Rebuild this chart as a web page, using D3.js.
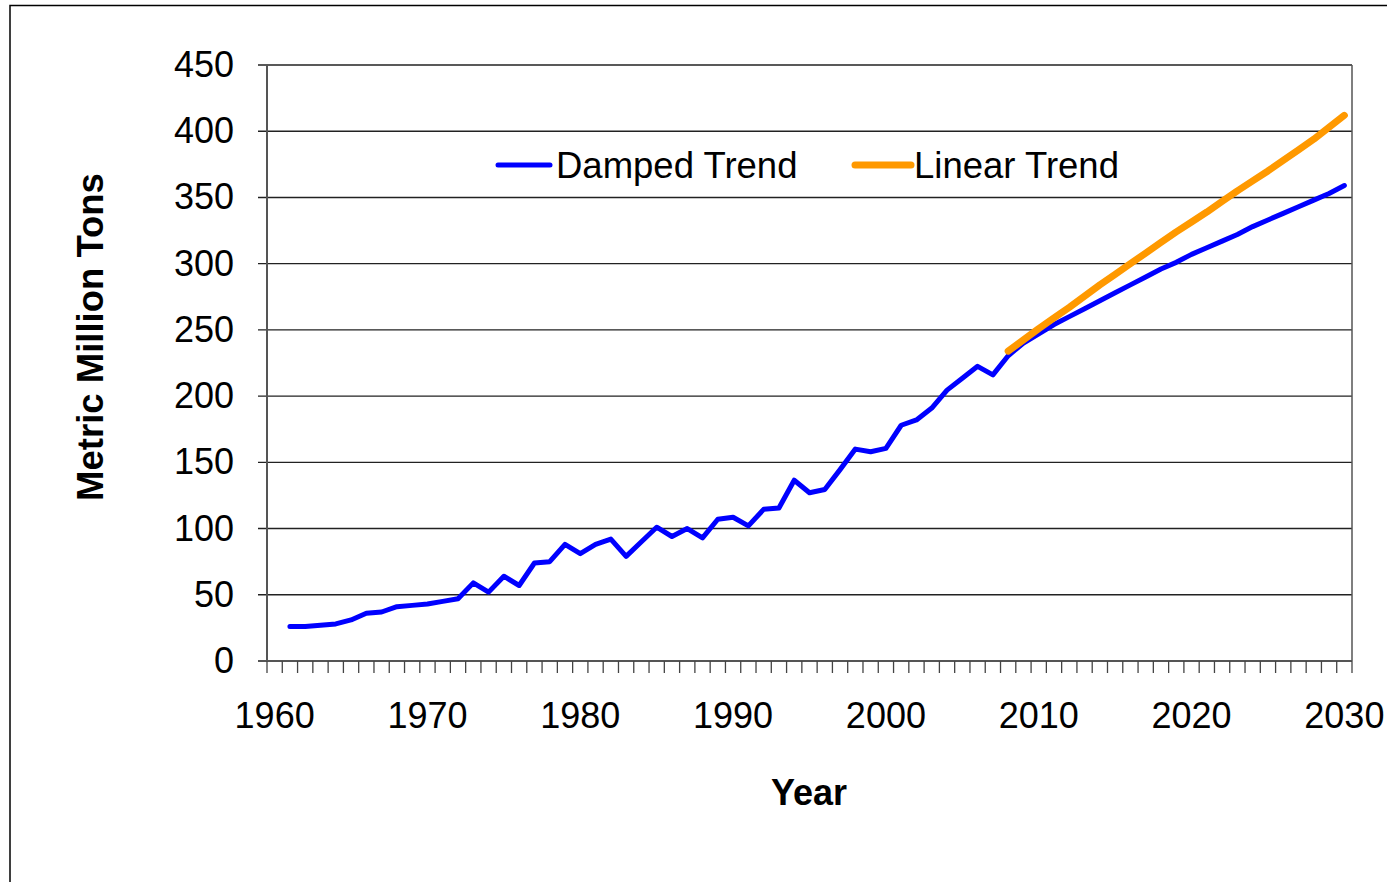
<!DOCTYPE html>
<html>
<head>
<meta charset="utf-8">
<script src="https://cdn.jsdelivr.net/npm/d3@7"></script>
<style>
  body { margin: 0; background: #fff; }
  svg { display: block; font-family: Arial, "Liberation Sans", sans-serif; }
</style>
</head>
<body>
<div id="chart"></div>
<script>
  const
    years = d3.range(1960, 2031),
    tickYears = [1960, 1970, 1980, 1990, 2000, 2010, 2020, 2030],
    yTicks = [0, 50, 100, 150, 200, 250, 300, 350, 400, 450],
    dampedYears = d3.range(1961, 2031),
    dampedValues = [
      26, 26, 27, 28, 31, 36, 37, 41, 42, 43,
      45, 47, 59, 52, 64, 57, 74, 75, 88, 81,
      88, 92, 79, 90, 101, 94, 100, 93, 107, 108.5,
      102, 114.5, 115.5, 136.5, 127, 129.5, 144.5, 160, 158, 160.5,
      178, 182, 191, 204.5, 213.5, 222.5, 216, 230.5, 240, 247,
      254, 260, 266, 272, 278, 284, 290, 296, 301, 307,
      312, 317, 322, 328, 333, 338, 343, 348, 353, 359
    ],
    linearYears = d3.range(2008, 2031),
    linearValues = [
      234, 242.5, 251, 259, 267, 275.5, 284, 292, 300, 308,
      316, 324, 331.5, 339, 347, 355, 362.5, 370, 378, 386,
      394, 403, 412
    ],
    seriesNames = ['Damped Trend', 'Linear Trend'],
    seriesColors = ['#0000ff', '#ff9900'];

  let
    width = 1387,
    height = 882,
    pad = { top: 65, right: 35, bottom: 221, left: 267 },
    w = width - pad.left - pad.right,
    h = height - pad.top - pad.bottom,
    fontSize = 36,
    svg, g, x, y, line;

  svg = d3.select('#chart')
    .append('svg')
    .attr('width', width)
    .attr('height', height);

  // outer frame
  svg.append('rect')
    .attr('x', 10)
    .attr('y', 5.5)
    .attr('width', width + 10)
    .attr('height', height + 10)
    .style('fill', 'none')
    .style('stroke', '#000')
    .style('stroke-width', 1.5);

  x = d3.scaleBand()
    .domain(years)
    .range([0, w])
    .padding(0);

  y = d3.scaleLinear()
    .domain([0, 450])
    .range([h, 0]);

  g = svg.append('g')
    .attr('transform', 'translate(' + pad.left + ',' + pad.top + ')');

  // gridlines
  g.selectAll('line.grid')
    .data(yTicks)
    .enter().append('line')
    .attr('class', 'grid')
    .attr('x1', -9)
    .attr('x2', w)
    .attr('y1', function (d) { return y(d); })
    .attr('y2', function (d) { return y(d); })
    .style('stroke', function (d) { return d === 0 ? '#555' : '#222'; })
    .style('stroke-width', function (d) { return d === 0 ? 2 : 1.4; });

  // y labels
  g.append('g')
    .call(d3.axisLeft(y).tickValues(yTicks).tickSize(0).tickPadding(33))
    .call(function (a) { a.select('.domain').remove(); })
    .selectAll('text')
    .attr('font-size', fontSize)
    .attr('fill', '#000')
    .attr('font-family', 'Arial, "Liberation Sans", sans-serif');

  // axis lines
  g.append('line')
    .attr('x1', 0).attr('x2', 0)
    .attr('y1', 0).attr('y2', h)
    .style('stroke', '#555')
    .style('stroke-width', 2);

  g.append('line')
    .attr('x1', w).attr('x2', w)
    .attr('y1', 0).attr('y2', h)
    .style('stroke', '#555')
    .style('stroke-width', 1.5);

  // category ticks between years
  g.selectAll('line.xtick')
    .data(years.concat([null]))
    .enter().append('line')
    .attr('class', 'xtick')
    .attr('x1', function (d) { return d === null ? w : x(d); })
    .attr('x2', function (d) { return d === null ? w : x(d); })
    .attr('y1', h)
    .attr('y2', h + 12)
    .style('stroke', '#444')
    .style('stroke-width', 1.3);

  // x labels
  g.append('g')
    .attr('transform', 'translate(0,' + h + ')')
    .call(d3.axisBottom(x).tickValues(tickYears).tickSize(0).tickPadding(41))
    .call(function (a) { a.select('.domain').remove(); })
    .selectAll('text')
    .attr('font-size', fontSize)
    .attr('fill', '#000')
    .attr('font-family', 'Arial, "Liberation Sans", sans-serif');

  line = d3.line()
    .x(function (d) { return x(d.key) + x.bandwidth() / 2; })
    .y(function (d) { return y(d.value); });

  // damped trend
  g.append('path')
    .datum(dampedYears.map(function (k, i) { return { key: k, value: dampedValues[i] }; }))
    .attr('fill', 'none')
    .attr('stroke', seriesColors[0])
    .attr('stroke-width', 5)
    .attr('stroke-linejoin', 'round')
    .attr('stroke-linecap', 'round')
    .attr('d', line);

  // linear trend
  g.append('path')
    .datum(linearYears.map(function (k, i) { return { key: k, value: linearValues[i] }; }))
    .attr('fill', 'none')
    .attr('stroke', seriesColors[1])
    .attr('stroke-width', 7)
    .attr('stroke-linejoin', 'round')
    .attr('stroke-linecap', 'round')
    .attr('d', line);

  // legend
  [[498, 550, 556], [855, 911, 914]].forEach(function (p, i) {
    svg.append('line')
      .attr('x1', p[0]).attr('x2', p[1])
      .attr('y1', 165).attr('y2', 165)
      .style('stroke', seriesColors[i])
      .style('stroke-width', i === 0 ? 5 : 7)
      .style('stroke-linecap', 'round');
    svg.append('text')
      .attr('x', p[2])
      .attr('y', 165)
      .attr('dy', '0.35em')
      .attr('font-size', 36.5)
      .text(seriesNames[i]);
  });

  // axis titles
  svg.append('text')
    .attr('x', 809)
    .attr('y', 792)
    .attr('dy', '0.35em')
    .attr('text-anchor', 'middle')
    .attr('font-size', 36)
    .attr('font-weight', 'bold')
    .text('Year');

  svg.append('text')
    .attr('transform', 'translate(90,337) rotate(-90)')
    .attr('dy', '0.35em')
    .attr('text-anchor', 'middle')
    .attr('font-size', 36.5)
    .attr('font-weight', 'bold')
    .text('Metric Million Tons');
</script>
</body>
</html>
